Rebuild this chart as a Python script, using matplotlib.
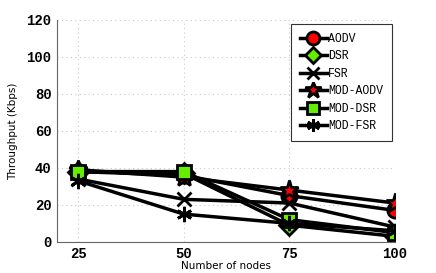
import matplotlib
matplotlib.use('Agg')
import matplotlib.pyplot as plt

# number of nodes vs throughput
nodes = [25, 50, 75, 100]
aodv = [38, 36, 25, 17]
dsr = [38, 37, 9, 3]
fsr = [34, 23, 21, 8]
mod_aodv = [39, 35, 28, 21]
mod_dsr = [38, 38, 12, 5]
mod_fsr = [33, 15, 10, 6]

labels = ['AODV', 'DSR', 'FSR', 'MOD-AODV', 'MOD-DSR', 'MOD-FSR']
series = [aodv, dsr, fsr, mod_aodv, mod_dsr, mod_fsr]
markers = ['o', 'D', 'x', '*', 's', (6, 2, 0)]
faces = ['red', '#66ee00', 'black', 'red', '#66ee00', 'black']
sizes = [11, 10, 10, 14, 10, 11]

fig = plt.figure(figsize=(4.36, 2.73), dpi=100)
ax = fig.add_axes([0.131, 0.114, 0.775, 0.813])

for vals, lab, m, fc, ms in zip(series, labels, markers, faces, sizes):
    ax.plot(nodes, vals, color='black', lw=2.5, marker=m, markersize=ms,
            markerfacecolor=fc, markeredgecolor='black', markeredgewidth=2,
            label=lab)

ax.set_xlim(20, 100)
ax.set_ylim(0, 120)
ax.set_xticks(nodes)
ax.set_yticks(range(0, 121, 20))
ax.grid(True, color='#c8c8c8', linestyle=(0, (1, 3)), linewidth=0.8)
ax.set_axisbelow(True)
for s in ['top', 'right']:
    ax.spines[s].set_visible(False)
for s in ['left', 'bottom']:
    ax.spines[s].set_color('#666666')
ax.tick_params(length=0, pad=4)
for t in ax.get_xticklabels() + ax.get_yticklabels():
    t.set_fontfamily('Liberation Mono')
    t.set_fontweight('bold')
    t.set_fontsize(10)

ax.set_xlabel('Number of nodes', fontsize=7.5, labelpad=0)
ax.set_ylabel('Throughput (Kbps)', fontsize=7.5, labelpad=6)

leg = ax.legend(loc='upper right', bbox_to_anchor=(0.991, 0.982),
                prop={'family': 'Liberation Mono', 'size': 8.3},
                fancybox=False, framealpha=1, edgecolor='#333333',
                handlelength=2.3, handletextpad=0.15, labelspacing=0.48,
                borderpad=0.75, borderaxespad=0, markerscale=0.85)
leg.get_frame().set_linewidth(0.8)

fig.savefig('out.png', dpi=100)
